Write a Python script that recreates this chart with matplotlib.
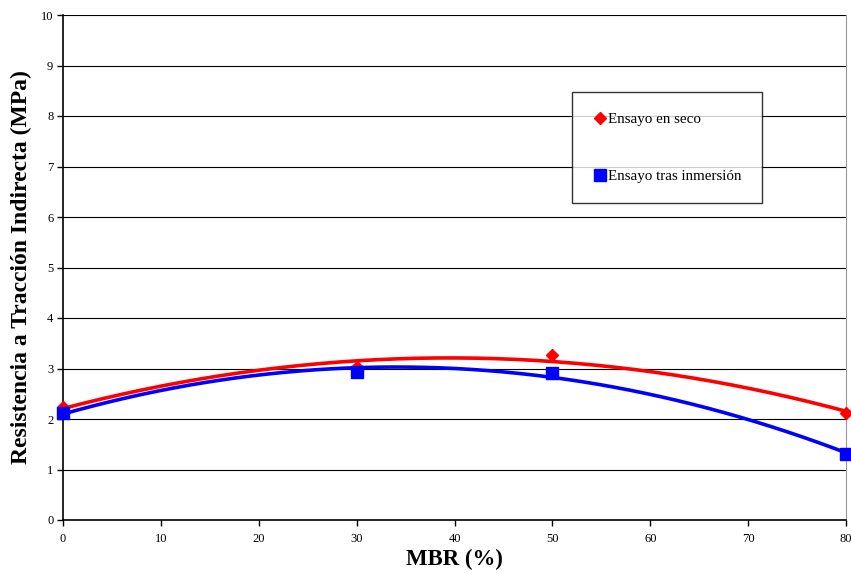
import numpy as np
import matplotlib
matplotlib.use("Agg")
import matplotlib.pyplot as plt

plt.rcParams['font.family'] = ['Liberation Serif', 'DejaVu Serif']

# MBR content (%) and indirect tensile strength (MPa)
mbr = [0, 30, 50, 80]
seco = [2.24, 3.02, 3.27, 2.12]
inmersion = [2.12, 2.93, 2.91, 1.31]

fig = plt.figure(figsize=(8.51, 5.73), dpi=100)
ax = fig.add_axes([63/851, 1 - 520/573, 783/851, 505/573])

# second order trend lines
xs = np.linspace(0, 80, 200)
pSeco = np.polyfit(mbr, seco, 2)
pInm = np.polyfit(mbr, inmersion, 2)
ax.plot(xs, np.polyval(pSeco, xs), color='#ff0000', lw=2.6, zorder=3)
ax.plot(xs, np.polyval(pInm, xs), color='#0000ff', lw=2.6, zorder=3)

ax.plot(mbr, seco, 'D', color='#ff0000', ms=6.5, ls='none', zorder=4,
        label='Ensayo en seco', clip_on=False)
ax.plot(mbr, inmersion, 's', color='#0000ff', ms=8, ls='none', zorder=5,
        label='Ensayo tras inmersión', clip_on=False)

ax.set_xlim(0, 80)
ax.set_ylim(0, 10)
ax.set_xticks(range(0, 81, 10))
ax.set_yticks(range(0, 11))
ax.yaxis.grid(True, color='black', lw=0.8)
ax.set_axisbelow(True)
ax.tick_params(direction='out', length=4, width=1, labelsize=9, pad=3)
ax.tick_params(axis='x', pad=5)

ax.spines['top'].set_visible(False)
ax.spines['right'].set_color('#999999')
ax.spines['left'].set_linewidth(1.2)
ax.spines['bottom'].set_linewidth(1.2)

ax.set_xlabel('MBR (%)', fontsize=16.5, fontweight='bold', labelpad=3)
ax.set_ylabel('Resistencia a Tracción Indirecta (MPa)', fontsize=17,
              fontweight='bold', labelpad=6)

leg = ax.legend(loc='upper left', bbox_to_anchor=((572 - 63)/783, 1 - (92 - 15)/505),
                frameon=True, fancybox=False, fontsize=10.8, handletextpad=0.05,
                labelspacing=2.9, borderpad=1.35, handlelength=1.0, borderaxespad=0)
leg.get_frame().set_edgecolor('black')
leg.get_frame().set_linewidth(1.0)

fig.savefig('out.png', dpi=100)
